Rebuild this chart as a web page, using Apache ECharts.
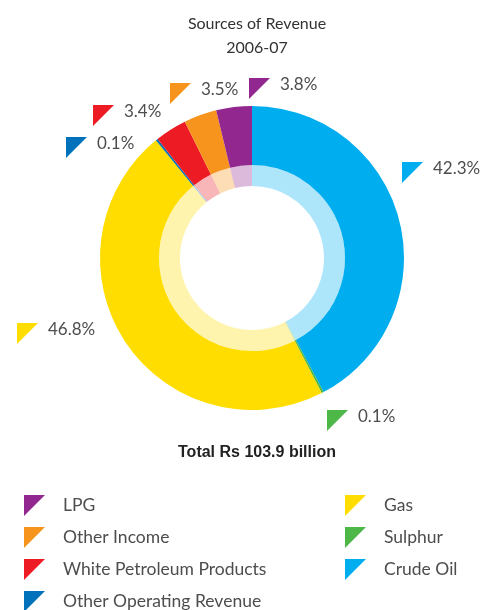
<!DOCTYPE html>
<html>
<head>
<meta charset="utf-8">
<script src="https://cdn.jsdelivr.net/npm/echarts@6/dist/echarts.min.js"></script>
<style>
html,body{margin:0;padding:0;background:#fff;}
#chart{width:483px;height:610px;}
</style>
</head>
<body>
<div id="chart"></div>
<script>
// revenue split 2006-07, % of total, clockwise from 12 o'clock
var names = ['Crude Oil', 'Sulphur', 'Gas', 'Other Operating Revenue', 'White Petroleum Products', 'Other Income', 'LPG'];
var shares = [42.3, 0.1, 46.8, 0.1, 3.4, 3.5, 3.8];
var colors = ['#00adef', '#4db848', '#ffdd00', '#0072bc', '#ed1c24', '#f7941d', '#92278f'];
var totalRs = 103.9;
var legendLeft = ['LPG', 'Other Income', 'White Petroleum Products', 'Other Operating Revenue'];
var legendRight = ['Gas', 'Sulphur', 'Crude Oil'];

// where each percentage tag sits (top-left of the triangle)
var tagPos = [[402,160],[327,408],[17,321],[66,135],[93,103],[170,81],[249,76]];

function tri(color){
    var c = document.createElement('canvas');
    c.width = 21; c.height = 21;
    var g = c.getContext('2d');
    g.fillStyle = color;
    g.beginPath();
    g.moveTo(0,0); g.lineTo(21,0); g.lineTo(0,21);
    g.closePath();
    g.fill();
    return c;
}

var rich = {v:{fontFamily:'Lato',fontSize:17,color:'#4d4d4d',padding:[0,0,8,10]}};
for(var i=0;i<colors.length;i++){
    rich['t'+i] = {width:21,height:21,backgroundColor:{image:tri(colors[i])}};
}

var outer = [], inner = [];
for(var i=0;i<names.length;i++){
    outer.push({name:names[i],value:shares[i],itemStyle:{color:colors[i]}});
    inner.push({name:names[i],value:shares[i],itemStyle:{color:colors[i],opacity:0.32}});
}

var legendBase = {
    orient:'vertical',
    top:490,
    height:150,
    itemWidth:21,
    itemHeight:21,
    itemGap:11,
    icon:'path://M0,0L1,0L0,1Z',
    selectedMode:false,
    textStyle:{fontFamily:'Lato',fontSize:17.5,color:'#4d4d4d',padding:[0,0,0,13]}
};

var myChart = echarts.init(document.getElementById('chart'));
var option = {
    backgroundColor:'#fff',
    color:colors,
    animation:false,
    title:[{
        text:'Sources of Revenue\n2006-07',
        left:252,
        top:7,
        textAlign:'center',
        textStyle:{fontFamily:'Lato',fontSize:16,fontWeight:'normal',color:'#333',lineHeight:24}
    },{
        text:'Total Rs ' + totalRs + ' billion',
        left:252,
        top:440,
        textAlign:'center',
        textStyle:{fontFamily:'Liberation Sans',fontSize:16,fontWeight:'bold',color:'#222'}
    }],
    legend:[
        Object.assign({}, legendBase, {left:19, data:legendLeft}),
        Object.assign({}, legendBase, {left:340, data:legendRight})
    ],
    series:[{
        name:'revenue',
        type:'pie',
        center:[252,258],
        radius:[93,152],
        startAngle:90,
        clockwise:true,
        minAngle:0.8,
        avoidLabelOverlap:false,
        silent:true,
        data:outer,
        label:{
            show:true,
            position:'outside',
            formatter:function(p){
                return '{t' + p.dataIndex + '|}{v|' + p.value.toFixed(1) + '%}';
            },
            rich:rich
        },
        labelLine:{show:false},
        labelLayout:function(p){
            var pos = tagPos[p.dataIndex];
            return {x:pos[0], y:pos[1], align:'left', verticalAlign:'top'};
        }
    },{
        name:'revenue-inner',
        type:'pie',
        center:[252,258],
        radius:[72,93],
        startAngle:90,
        clockwise:true,
        minAngle:0.8,
        silent:true,
        data:inner,
        label:{show:false},
        labelLine:{show:false}
    }]
};
myChart.setOption(option);
</script>
</body>
</html>
